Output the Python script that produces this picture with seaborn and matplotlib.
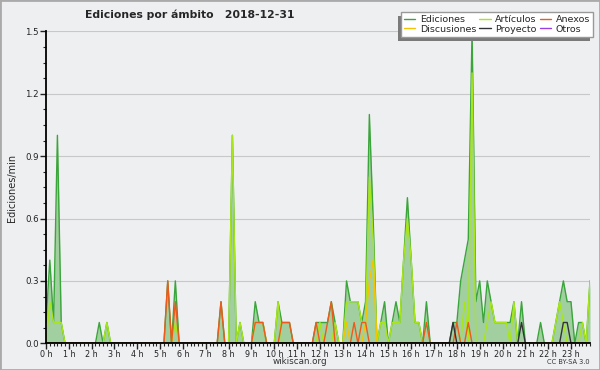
import numpy as np
import pandas as pd
import matplotlib
matplotlib.use("Agg")
import matplotlib.pyplot as plt
from matplotlib.lines import Line2D
from matplotlib.patches import Rectangle
from matplotlib.transforms import IdentityTransform
from matplotlib.ticker import MultipleLocator, AutoMinorLocator
import seaborn as sns

# Edits per minute, one value per 10-minute bin (144 bins, 00:00 -> 23:50)
ediciones = [
    0.1, 0.4, 0.1, 1.0, 0.1, 0, 0, 0, 0, 0, 0, 0,          # 0-2 h
    0, 0, 0.1, 0, 0.1, 0, 0, 0, 0, 0, 0, 0,                # 2-4 h
    0, 0, 0, 0, 0, 0, 0, 0, 0.3, 0, 0.3, 0,                # 4-6 h
    0, 0, 0, 0, 0, 0, 0, 0, 0, 0, 0.2, 0,                  # 6-8 h
    0, 1.0, 0, 0.1, 0, 0, 0, 0.2, 0.1, 0.1, 0, 0,          # 8-10 h
    0, 0.2, 0.1, 0.1, 0.1, 0, 0, 0, 0, 0, 0, 0.1,          # 10-12 h
    0.1, 0.1, 0.1, 0.2, 0.1, 0, 0, 0.3, 0.2, 0.2, 0.2, 0.1,  # 12-14 h
    0.2, 1.1, 0.6, 0, 0.1, 0.2, 0, 0.1, 0.2, 0.1, 0.4, 0.7,  # 14-16 h
    0.4, 0.1, 0.1, 0, 0.2, 0, 0, 0, 0, 0, 0, 0.1,          # 16-18 h
    0.1, 0.3, 0.4, 0.5, 1.5, 0.2, 0.3, 0.1, 0.3, 0.2, 0.1, 0.1,  # 18-20 h
    0.1, 0.1, 0.1, 0.2, 0, 0.2, 0, 0, 0, 0, 0.1, 0,        # 20-22 h
    0, 0, 0.1, 0.2, 0.3, 0.2, 0.2, 0, 0.1, 0.1, 0, 0.3,    # 22-24 h
]
articulos = [
    0, 0.2, 0.1, 0.1, 0.1, 0, 0, 0, 0, 0, 0, 0,
    0, 0, 0, 0, 0.1, 0, 0, 0, 0, 0, 0, 0,
    0, 0, 0, 0, 0, 0, 0, 0, 0, 0, 0.1, 0,
    0, 0, 0, 0, 0, 0, 0, 0, 0, 0, 0, 0,
    0, 1.0, 0, 0.1, 0, 0, 0, 0.1, 0.1, 0.1, 0, 0,
    0, 0.2, 0, 0, 0, 0, 0, 0, 0, 0, 0, 0,
    0.1, 0, 0, 0, 0.1, 0, 0, 0.2, 0.2, 0.2, 0.2, 0.1,
    0.1, 0.8, 0.5, 0, 0.1, 0.1, 0, 0.1, 0.1, 0.1, 0.4, 0.6,
    0.4, 0.1, 0.1, 0, 0, 0, 0, 0, 0, 0, 0, 0,
    0, 0, 0.2, 0, 1.3, 0, 0, 0, 0.1, 0.2, 0.1, 0.1,
    0.1, 0.1, 0, 0.2, 0, 0, 0, 0, 0, 0, 0, 0,
    0, 0, 0.1, 0.2, 0.1, 0, 0, 0, 0, 0.1, 0, 0.3,
]
anexos = [
    0, 0, 0, 0, 0, 0, 0, 0, 0, 0, 0, 0,
    0, 0, 0, 0, 0, 0, 0, 0, 0, 0, 0, 0,
    0, 0, 0, 0, 0, 0, 0, 0, 0.3, 0, 0.2, 0,
    0, 0, 0, 0, 0, 0, 0, 0, 0, 0, 0.2, 0,
    0, 0, 0, 0, 0, 0, 0, 0.1, 0.1, 0.1, 0, 0,
    0, 0, 0.1, 0.1, 0.1, 0, 0, 0, 0, 0, 0, 0.1,
    0, 0, 0.1, 0.2, 0, 0, 0, 0, 0, 0.1, 0, 0.1,
    0.1, 0, 0, 0, 0, 0, 0, 0, 0, 0, 0, 0,
    0, 0, 0, 0, 0.1, 0, 0, 0, 0, 0, 0, 0,
    0.1, 0, 0, 0.1, 0, 0, 0, 0, 0, 0, 0, 0,
    0, 0, 0, 0, 0, 0, 0, 0, 0, 0, 0, 0,
    0, 0, 0, 0, 0, 0, 0, 0, 0, 0, 0, 0,
]
discusiones = [
    0, 0, 0, 0, 0, 0, 0, 0, 0, 0, 0, 0,
    0, 0, 0, 0, 0, 0, 0, 0, 0, 0, 0, 0,
    0, 0, 0, 0, 0, 0, 0, 0, 0, 0, 0, 0,
    0, 0, 0, 0, 0, 0, 0, 0, 0, 0, 0, 0,
    0, 0, 0, 0, 0, 0, 0, 0, 0, 0, 0, 0,
    0, 0, 0, 0, 0, 0, 0, 0, 0, 0, 0, 0,
    0, 0, 0, 0, 0, 0, 0, 0.1, 0, 0, 0, 0,
    0.1, 0.3, 0.4, 0, 0, 0, 0, 0, 0, 0, 0, 0,
    0, 0, 0, 0, 0, 0, 0, 0, 0, 0, 0, 0,
    0, 0, 0, 0, 0, 0, 0, 0, 0, 0, 0, 0,
    0, 0, 0, 0, 0, 0, 0, 0, 0, 0, 0, 0,
    0, 0, 0, 0, 0, 0, 0, 0, 0, 0, 0, 0,
]
proyecto = [
    0, 0, 0, 0, 0, 0, 0, 0, 0, 0, 0, 0,
    0, 0, 0, 0, 0, 0, 0, 0, 0, 0, 0, 0,
    0, 0, 0, 0, 0, 0, 0, 0, 0, 0, 0, 0,
    0, 0, 0, 0, 0, 0, 0, 0, 0, 0, 0, 0,
    0, 0, 0, 0, 0, 0, 0, 0, 0, 0, 0, 0,
    0, 0, 0, 0, 0, 0, 0, 0, 0, 0, 0, 0,
    0, 0, 0, 0, 0, 0, 0, 0, 0, 0, 0, 0,
    0, 0, 0, 0, 0, 0, 0, 0, 0, 0, 0, 0,
    0, 0, 0, 0, 0, 0, 0, 0, 0, 0, 0, 0.1,
    0, 0, 0, 0, 0, 0, 0, 0, 0, 0, 0, 0,
    0, 0, 0, 0, 0, 0.1, 0, 0, 0, 0, 0, 0,
    0, 0, 0, 0, 0.1, 0.1, 0, 0, 0, 0, 0, 0,
]
otros = [0] * 144

hour_labels = ['0 h', '1 h', '2 h', '3 h', '4 h', '5 h', '6 h', '7 h', '8 h',
               '9 h', '10 h', '11 h', '12 h', '13 h', '14 h', '15 h', '16 h',
               '17 h', '18 h', '19 h', '20 h', '21 h', '22 h', '23 h']
y_ticks = [0.0, 0.3, 0.6, 0.9, 1.2, 1.5]

BG = '#eeeff1'
FILL = '#a2cfa0'
colors = {
    'Ediciones': '#3aa53a',
    'Artículos': '#a8e619',
    'Anexos': '#ee5a1c',
    'Discusiones': '#f5c400',
    'Proyecto': '#333333',
    'Otros': '#9a3ee0',
}

df = pd.DataFrame({
    'hora': np.arange(144) / 6,
    'Ediciones': ediciones,
    'Artículos': articulos,
    'Discusiones': discusiones,
    'Anexos': anexos,
    'Proyecto': proyecto,
    'Otros': otros,
})

sns.set_style("ticks")
plt.rcParams['font.family'] = ['DejaVu Sans']

fig = plt.figure(figsize=(6, 3.7), dpi=100, facecolor=BG)
ax = fig.add_axes([46 / 600, (370 - 343.3) / 370, 544 / 600, 312 / 370])
ax.set_facecolor(BG)

# filled area for the total, then one line per namespace
ax.fill_between(df['hora'], df['Ediciones'], color=FILL, lw=0, zorder=1)
for name in ['Ediciones', 'Otros', 'Artículos', 'Discusiones', 'Anexos', 'Proyecto']:
    sns.lineplot(data=df, x='hora', y=name, color=colors[name], lw=1,
                 ax=ax, zorder=2, legend=False)

ax.set_xlim(0, 143 / 6)
ax.set_ylim(0, 1.5)
ax.set_xticks(range(24))
ax.set_xticklabels(hour_labels)
ax.xaxis.set_minor_locator(MultipleLocator(1 / 6))
ax.set_yticks(y_ticks)
ax.set_yticklabels([f'{v:.1f}' for v in y_ticks])
ax.yaxis.set_minor_locator(AutoMinorLocator(4))
ax.tick_params(which='major', length=4, width=1, colors='#222222',
               direction='out', pad=0.5)
ax.tick_params(axis='x', which='major', labelsize=5.8)
ax.tick_params(axis='y', which='major', labelsize=6.2, pad=1)
ax.tick_params(which='minor', length=2.5, width=0.8, colors='#222222')
ax.grid(axis='y', color='#c8c8c8', lw=0.8, zorder=0)
ax.set_axisbelow(True)
ax.set_xlabel('')
ax.set_ylabel('')

for side in ['top', 'right']:
    ax.spines[side].set_visible(False)
for side in ['left', 'bottom']:
    ax.spines[side].set_linewidth(1.3)
    ax.spines[side].set_color('black')
    ax.spines[side].set_zorder(5)

fig.text(85 / 600, 1 - 15 / 370, 'Ediciones por ámbito   2018-12-31',
         fontsize=7.8, fontweight='bold', ha='left', va='center')
fig.text(12 / 600, 1 - 188 / 370, 'Ediciones/min', rotation=90,
         fontsize=7, ha='center', va='center')
fig.text(0.5, 1 - 362 / 370, 'wikiscan.org', fontsize=6.3,
         color='#333333', ha='center', va='center')
fig.text(590 / 600, 1 - 362 / 370, 'CC BY-SA 3.0', fontsize=4.8,
         color='#333333', ha='right', va='center')

legend_order = ['Ediciones', 'Discusiones', 'Artículos', 'Proyecto', 'Anexos', 'Otros']
handles = [Line2D([], [], color=colors[n], lw=1) for n in legend_order]
leg = fig.legend(handles, legend_order, loc='upper right',
                 bbox_to_anchor=(593 / 600, 1 - 12 / 370), ncol=3, fontsize=6.8,
                 frameon=True, fancybox=False, edgecolor='#999999',
                 framealpha=1, handlelength=1.2, handletextpad=0.5,
                 columnspacing=0.3, labelspacing=0.1, borderpad=0.3,
                 borderaxespad=0)
leg.set_zorder(6)

# offset shadow behind the legend box (down and to the left)
fig.canvas.draw()
bb = leg.get_window_extent()
fig.add_artist(Rectangle((bb.x0 - 3, bb.y0 - 4), bb.width, bb.height,
                         transform=IdentityTransform(), color='#7a7a7a',
                         lw=0, zorder=5))

fig.add_artist(Rectangle((0, 0), 1, 1, transform=fig.transFigure,
                         fill=False, ec='#aaaaaa', lw=2, zorder=10))

fig.savefig('out.png', dpi=100, facecolor=fig.get_facecolor())
